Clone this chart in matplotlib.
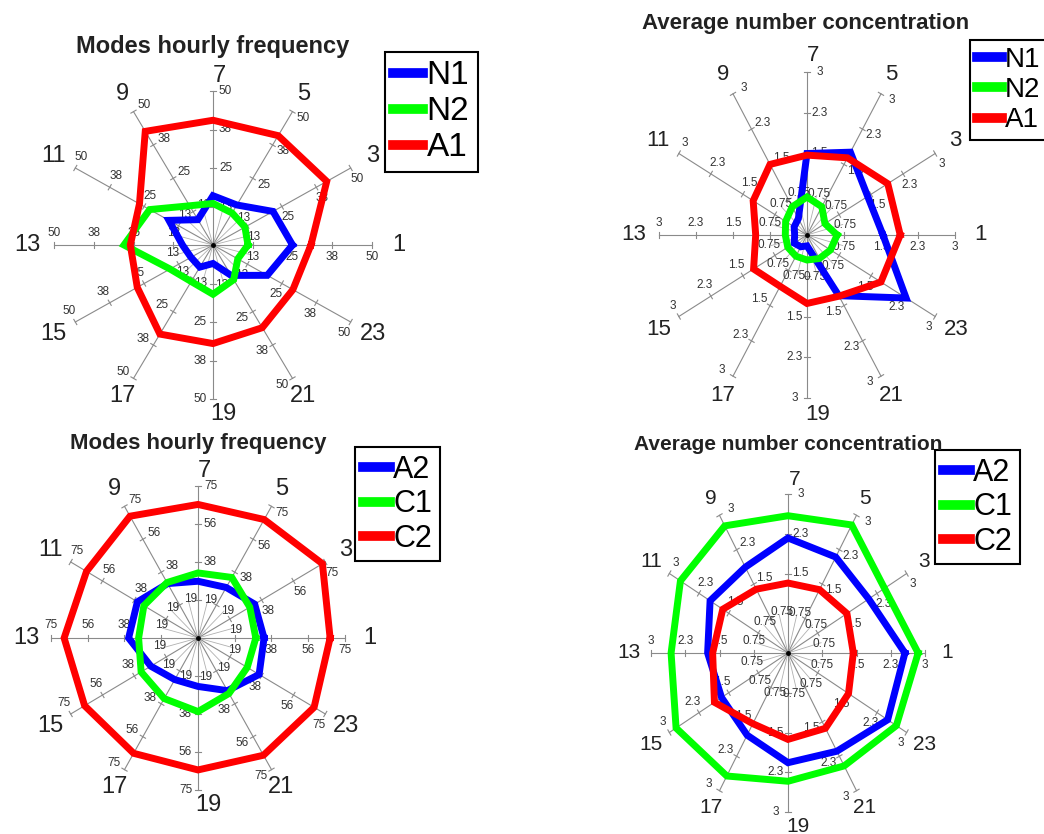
import numpy as np
import matplotlib
matplotlib.use("Agg")
import matplotlib.pyplot as plt

plt.rcParams['font.family'] = ['Liberation Sans', 'DejaVu Sans']

# hours shown on the 12 spokes (1 at the right, counter-clockwise)
hours = [1, 3, 5, 7, 9, 11, 13, 15, 17, 19, 21, 23]

# top-left: modes hourly frequency
freq_ticks_1 = [12.5, 25, 37.5, 50]
freq_labels_1 = ['13', '25', '38', '50']
n1_freq = [25, 21.8, 15, 16, 9.5, 16, 9.6, 8, 8.3, 6, 11.4, 19.7]
n2_freq = [11, 11.6, 12, 13.5, 14.7, 23, 28, 15.6, 13.7, 16, 13, 9]
a1_freq = [30.8, 41.3, 41, 40.5, 42.6, 26.7, 26, 27.5, 33.4, 32, 31, 29]

# top-right: average number concentration
conc_ticks = [0.75, 1.5, 2.25, 3]
conc_labels = ['0.75', '1.5', '2.3', '3']
n1_conc = [1.54, 1.42, 1.76, 1.5, 0.35, 0.3, 0.25, 0.3, 0.25, 0.2, 1.29, 2.32]
n2_conc = [0.61, 0.42, 0.6, 0.7, 0.6, 0.5, 0.44, 0.45, 0.45, 0.46, 0.5, 0.55]
a1_conc = [1.89, 1.89, 1.64, 1.47, 1.5, 1.26, 1.04, 1.25, 1.09, 1.26, 1.3, 1.73]

# bottom-left: modes hourly frequency
freq_ticks_2 = [18.75, 37.5, 56.25, 75]
freq_labels_2 = ['19', '38', '56', '75']
a2_freq = [33.7, 33.4, 28.8, 28, 31, 35.7, 35.4, 27.8, 23.7, 23.9, 30, 36]
c1_freq = [29.5, 30.5, 34.5, 32.1, 31.6, 31.9, 30.3, 33.5, 34.5, 36.3, 31.6, 29]
c2_freq = [67.4, 73.3, 67.5, 65.9, 69.4, 65.7, 68.3, 66.8, 65.7, 65.1, 66.8, 68.4]

# bottom-right: average number concentration
a2_conc = [2.56, 2.04, 2.09, 2.17, 1.87, 1.97, 1.76, 1.68, 1.79, 2.07, 2.14, 2.52]
c1_conc = [2.85, 2.44, 2.79, 2.59, 2.77, 2.72, 2.56, 2.83, 2.68, 2.42, 2.46, 2.74]
c2_conc = [1.43, 1.49, 1.38, 1.32, 1.39, 1.65, 1.65, 1.86, 1.54, 1.63, 1.64, 1.53]

W, H = 1044, 834
fig = plt.figure(figsize=(W / 100, H / 100), dpi=100)

COLORS = ['#0000ff', '#00ff00', '#ff0000']
K = 1.45  # axes half size in units of the spoke length


def spider(cx, cy, rx, ry, ticks, tick_labels, series, names,
           title, title_xy, title_size, leg_xy, leg_size, hour_size, hour_r=1.1):
    vmax = ticks[-1]
    ax = fig.add_axes([(cx - K * rx) / W, 1 - (cy + K * ry) / H,
                       2 * K * rx / W, 2 * K * ry / H])
    ax.set_xlim(-K * vmax, K * vmax)
    ax.set_ylim(-K * vmax, K * vmax)
    ax.axis('off')
    ax.patch.set_alpha(0)
    sx, sy = vmax / rx, vmax / ry  # data units per pixel

    ang = np.deg2rad((np.array(hours) - 1) * 15.0)
    # thin inner spokes between the main ones
    for a in ang + np.deg2rad(15):
        ax.plot([0, ticks[0] * np.cos(a)], [0, ticks[0] * np.sin(a)],
                color='#b0b0b0', lw=0.6, zorder=1)
    for a, h in zip(ang, hours):
        c, s = np.cos(a), np.sin(a)
        ax.plot([0, vmax * c], [0, vmax * s], color='#8a8a8a', lw=0.8, zorder=1)
        for t, lab in zip(ticks, tick_labels):
            px, py = t * c, t * s
            ax.plot([px - 3 * s * sx, px + 3 * s * sx],
                    [py + 3 * c * sy, py - 3 * c * sy],
                    color='#8a8a8a', lw=0.8, zorder=1)
            ax.annotate(lab, (px, py), xytext=(9 * s, -9 * c),
                        textcoords='offset points', ha='center', va='center',
                        fontsize=8.5, color='#333333', zorder=2)
        f = hour_r + 0.07 * abs(c)
        # top and bottom hour labels sit a little right of the spoke
        shift = 0
        if abs(c) < 0.1:
            shift = 4.5 if s > 0 else 7.5
        ax.annotate(str(h), (f * vmax * c, f * vmax * s), xytext=(shift, 0),
                    textcoords='offset points', ha='center', va='center',
                    fontsize=hour_size, color='#222222')
    ax.plot([0], [0], 'o', color='black', ms=2.5, zorder=3)

    for vals, col, name in zip(series, COLORS, names):
        v = np.array(vals + vals[:1])
        a = np.append(ang, ang[0])
        ax.plot(v * np.cos(a), v * np.sin(a), color=col, lw=5,
                solid_joinstyle='miter', label=name, zorder=4)

    fig.text(title_xy[0] / W, 1 - title_xy[1] / H, title, ha='center',
             va='center', fontsize=title_size, fontweight='bold',
             color='#222222')
    leg = ax.legend(loc='upper left', bbox_to_anchor=(leg_xy[0] / W, 1 - leg_xy[1] / H),
                    bbox_transform=fig.transFigure, borderaxespad=0,
                    fontsize=leg_size, handlelength=0.9, handletextpad=0.1,
                    borderpad=0.25, labelspacing=0.15, fancybox=False,
                    framealpha=1, edgecolor='black')
    leg.get_frame().set_linewidth(1.5)
    for line in leg.get_lines():
        line.set_linewidth(7)
    return ax


spider(213, 245, 159, 154, freq_ticks_1, freq_labels_1,
       [n1_freq, n2_freq, a1_freq], ['N1', 'N2', 'A1'],
       'Modes hourly frequency', (213, 46), 17, (385, 52), 24, 17)
spider(807, 235, 148, 163, conc_ticks, conc_labels,
       [n1_conc, n2_conc, a1_conc], ['N1', 'N2', 'A1'],
       'Average number concentration', (806, 23), 16, (970, 40), 20, 16)
spider(198, 638, 147, 152, freq_ticks_2, freq_labels_2,
       [a2_freq, c1_freq, c2_freq], ['A2', 'C1', 'C2'],
       'Modes hourly frequency', (198, 443), 16, (355, 447), 22, 17)
spider(788, 653, 137, 159, conc_ticks, conc_labels,
       [a2_conc, c1_conc, c2_conc], ['A2', 'C1', 'C2'],
       'Average number concentration', (788, 445), 15, (935, 450), 22, 15,
       hour_r=1.09)

fig.savefig('out.png', dpi=100)
